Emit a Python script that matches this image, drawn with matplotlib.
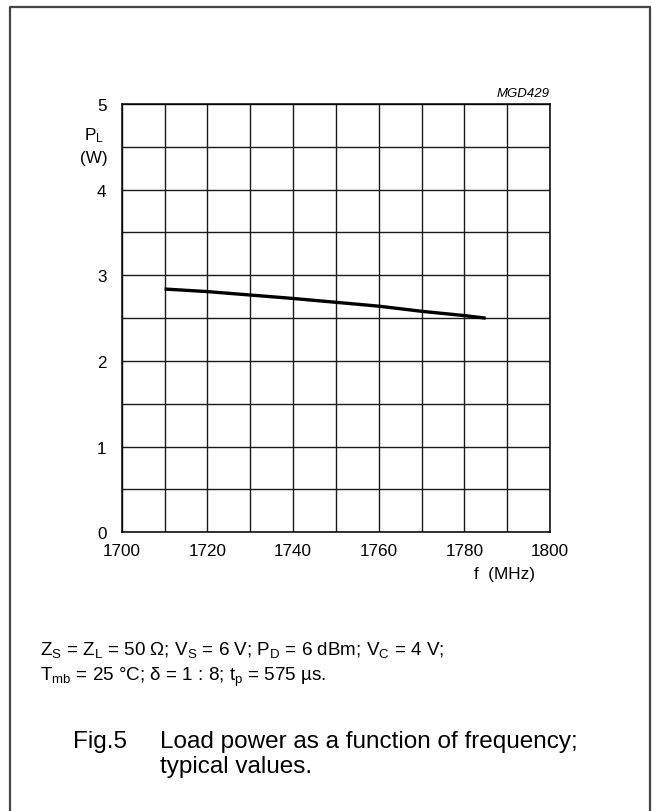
import matplotlib
matplotlib.use("Agg")
import matplotlib.pyplot as plt
from matplotlib.lines import Line2D

plt.rcParams['font.family'] = ['Liberation Sans', 'DejaVu Sans']
plt.rcParams['mathtext.fontset'] = 'custom'
plt.rcParams['mathtext.rm'] = 'Liberation Sans'
plt.rcParams['mathtext.it'] = 'Liberation Sans:italic'

# data
freq = [1710, 1720, 1730, 1740, 1750, 1760, 1770, 1780, 1785]
power = [2.84, 2.81, 2.77, 2.73, 2.685, 2.64, 2.58, 2.53, 2.50]
x_ticks = [1700, 1720, 1740, 1760, 1780, 1800]
y_ticks = [0, 1, 2, 3, 4, 5]

W, H = 652, 812
fig = plt.figure(figsize=(W / 100, H / 100), dpi=100)

# axes placed in pixel terms
left, right, top, bottom = 121.7, 550, 105, 533.3
ax = fig.add_axes([left / W, 1 - bottom / H, (right - left) / W, (bottom - top) / H])

ax.set_xlim(1700, 1800)
ax.set_ylim(0, 5)
ax.set_xticks(x_ticks)
ax.set_yticks(y_ticks)
ax.set_xticks(range(1700, 1801, 10), minor=True)
ax.set_yticks([i * 0.5 for i in range(11)], minor=True)
ax.grid(True, which='both', color='#1a1a1a', linewidth=1.0)
ax.tick_params(which='both', length=0, labelsize=12.3, colors='black')
ax.tick_params(axis='x', pad=8)
ax.tick_params(axis='y', pad=11)
for s in ax.spines.values():
    s.set_linewidth(1.1)
    s.set_color('black')

ax.plot(freq, power, color='black', linewidth=2.4, solid_capstyle='butt', zorder=3)

# axis labels
fig.text(94 / W, 1 - 136 / H, r'P$_\mathrm{L}$', fontsize=12.3, ha='center', va='center')
fig.text(94 / W, 1 - 158 / H, '(W)', fontsize=12.3, ha='center', va='center')
fig.text(505 / W, 1 - 575 / H, 'f  (MHz)', fontsize=12.3, ha='center', va='center')
fig.text(550 / W, 1 - 94 / H, 'MGD429', fontsize=9.5, style='italic', ha='right', va='center')

# conditions
fig.text(40 / W, 1 - 655 / H,
         r'Z$_\mathrm{S}$ = Z$_\mathrm{L}$ = 50 Ω; V$_\mathrm{S}$ = 6 V; P$_\mathrm{D}$ = 6 dBm; V$_\mathrm{C}$ = 4 V;',
         fontsize=13.6, ha='left', va='baseline')
fig.text(40 / W, 1 - 681 / H,
         r'T$_\mathrm{mb}$ = 25 °C; δ = 1 : 8; t$_\mathrm{p}$ = 575 µs.',
         fontsize=13.6, ha='left', va='baseline')

# caption
fig.text(73 / W, 1 - 748 / H, 'Fig.5', fontsize=17.5, ha='left', va='baseline')
fig.text(160 / W, 1 - 748 / H, 'Load power as a function of frequency;', fontsize=17.5, ha='left', va='baseline')
fig.text(160 / W, 1 - 773 / H, 'typical values.', fontsize=17.5, ha='left', va='baseline')

# outer frame (open at the bottom)
fx = [9.5 / W, 9.5 / W, 649.5 / W, 649.5 / W]
fy = [-0.02, 1 - 8 / H, 1 - 8 / H, -0.02]
fig.add_artist(Line2D(fx, fy, transform=fig.transFigure, color='#444444', linewidth=1.6))

fig.savefig('out.png', dpi=100)
